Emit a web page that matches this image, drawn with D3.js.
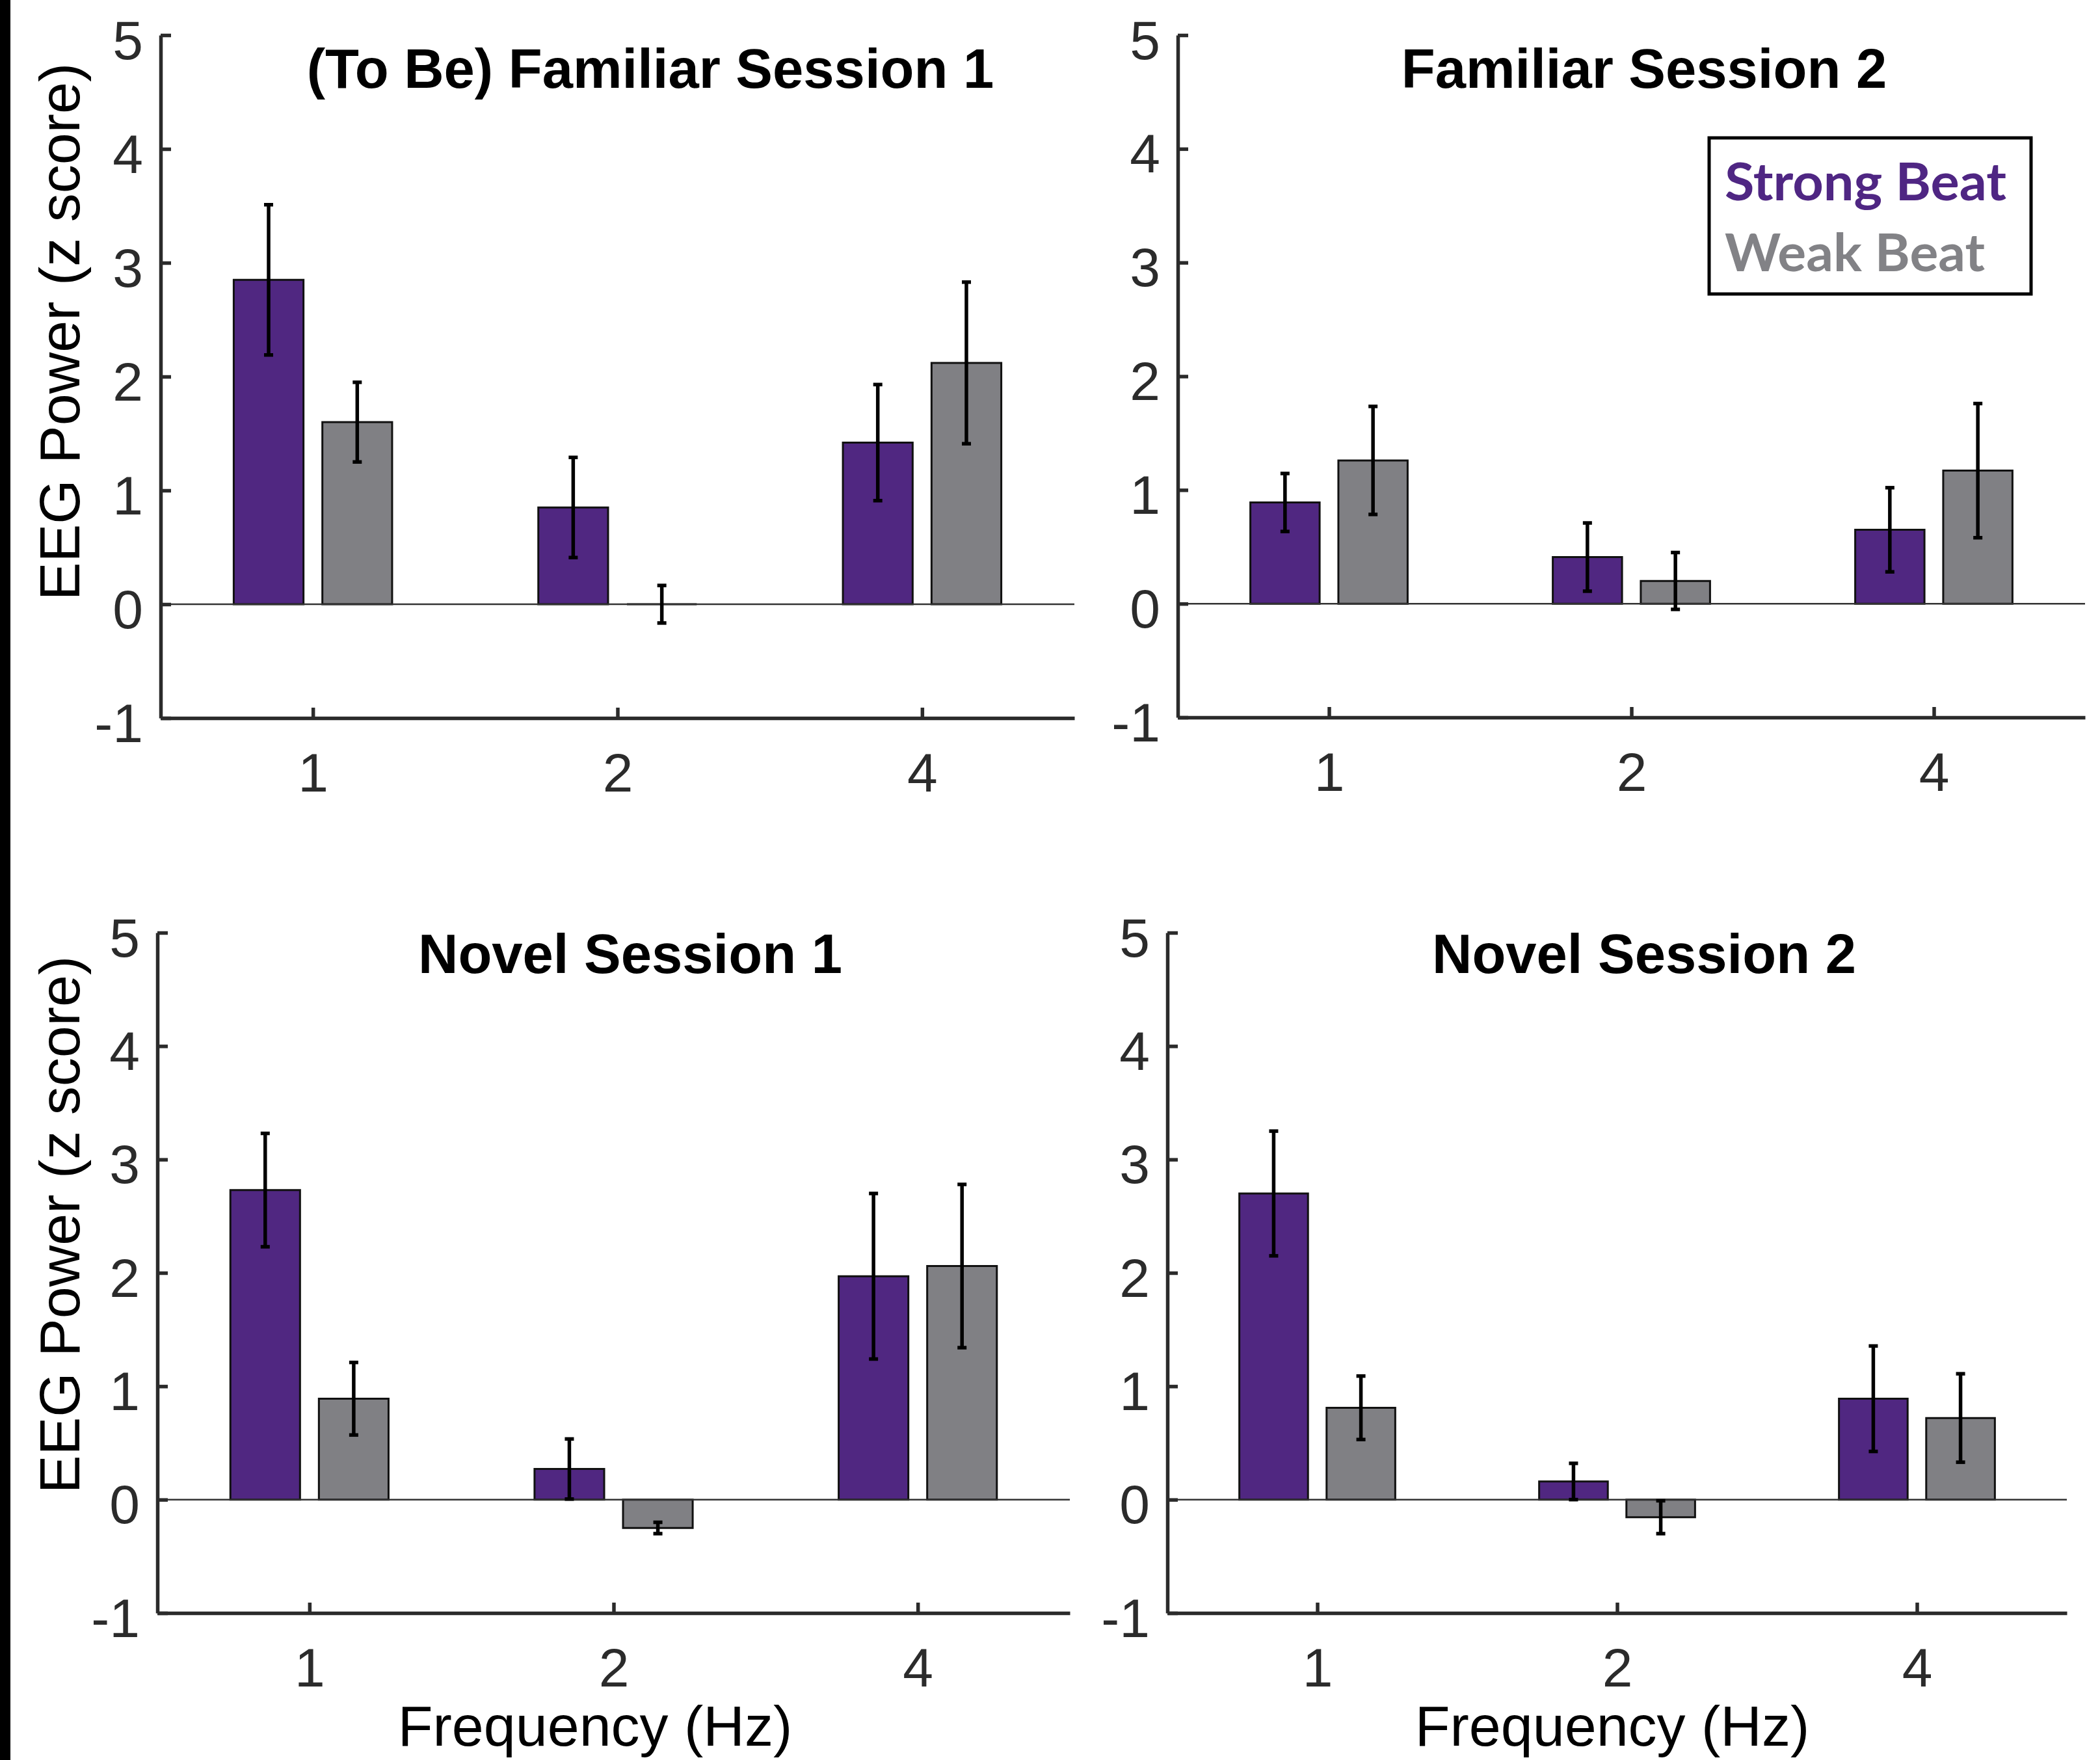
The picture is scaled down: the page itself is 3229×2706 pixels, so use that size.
<!DOCTYPE html>
<html>
<head>
<meta charset="utf-8">
<script src="https://cdn.jsdelivr.net/npm/d3@7/dist/d3.min.js"></script>
<style>
  html, body { margin: 0; padding: 0; background: #ffffff; }
  svg { display: block; }
</style>
</head>
<body>
<script>
// ---------------- DATA ----------------
const categories = ["1", "2", "4"];            // Frequency (Hz)
const yTickValues = [-1, 0, 1, 2, 3, 4, 5];
const seriesNames = ["Strong Beat", "Weak Beat"];
const panelTitles = ["(To Be) Familiar Session 1", "Familiar Session 2", "Novel Session 1", "Novel Session 2"];

const fam1Strong    = [2.85, 0.85, 1.42];
const fam1StrongErr = [0.66, 0.44, 0.51];
const fam1Weak      = [1.60, 0.00, 2.12];
const fam1WeakErr   = [0.35, 0.165, 0.71];

const fam2Strong    = [0.89, 0.41, 0.65];
const fam2StrongErr = [0.255, 0.30, 0.37];
const fam2Weak      = [1.26, 0.20, 1.17];
const fam2WeakErr   = [0.475, 0.25, 0.59];

const nov1Strong    = [2.73, 0.27, 1.97];
const nov1StrongErr = [0.50, 0.265, 0.73];
const nov1Weak      = [0.89, -0.25, 2.06];
const nov1WeakErr   = [0.32, 0.05, 0.72];

const nov2Strong    = [2.70, 0.16, 0.89];
const nov2StrongErr = [0.55, 0.16, 0.465];
const nov2Weak      = [0.81, -0.155, 0.72];
const nov2WeakErr   = [0.28, 0.145, 0.39];

// ---------------- LAYOUT / STYLE ----------------
const W = 3229, H = 2706;
const purple = "#502781", gray = "#808084";
const legendPurple = "#4f2683", legendGray = "#828286";
const axisColor = "#2b2b2b";
const tickFont = "'Liberation Sans', Arial, Helvetica, sans-serif";

const layout = [
  { x0: 247,  x1: 1652, yTop: 54,   yBot: 1104, titleX: 1000, titleY: 135,  ylab: true,  ylabY: 510,  xlab: false, legend: false },
  { x0: 1811, x1: 3206, yTop: 54,   yBot: 1103, titleX: 2528, titleY: 135,  ylab: false, xlab: false, legend: true },
  { x0: 242,  x1: 1645, yTop: 1434, yBot: 2480, titleX: 969,  titleY: 1496, ylab: true,  ylabY: 1883, xlab: true, xlabX: 915, legend: false },
  { x0: 1795, x1: 3178, yTop: 1434, yBot: 2480, titleX: 2528, titleY: 1496, ylab: false, xlab: true, xlabX: 2479, legend: false }
];

const panelData = [
  { strong: fam1Strong, strongErr: fam1StrongErr, weak: fam1Weak, weakErr: fam1WeakErr },
  { strong: fam2Strong, strongErr: fam2StrongErr, weak: fam2Weak, weakErr: fam2WeakErr },
  { strong: nov1Strong, strongErr: nov1StrongErr, weak: nov1Weak, weakErr: nov1WeakErr },
  { strong: nov2Strong, strongErr: nov2StrongErr, weak: nov2Weak, weakErr: nov2WeakErr }
];

const svg = d3.select("body").append("svg")
  .attr("width", W).attr("height", H)
  .attr("viewBox", `0 0 ${W} ${H}`);

svg.append("rect").attr("width", W).attr("height", H).attr("fill", "#ffffff");
// dark strip at the left edge of the figure
svg.append("rect").attr("x", 0).attr("y", 0).attr("width", 16).attr("height", H).attr("fill", "#000");

const barOffset = 0.1455;   // fraction of category step
const barWidth = 0.229;     // fraction of category step
const capHalf = 7;

layout.forEach((L, i) => {
  const d = panelData[i];
  const g = svg.append("g");

  const x = d3.scalePoint().domain(categories).range([L.x0, L.x1]).padding(0.5);
  const y = d3.scaleLinear().domain([-1, 5]).range([L.yBot, L.yTop]);
  const step = x.step();
  const bw = barWidth * step;

  const rows = [];
  categories.forEach((c, k) => {
    rows.push({ c, v: d.strong[k], e: d.strongErr[k], off: -barOffset, fill: purple });
    rows.push({ c, v: d.weak[k], e: d.weakErr[k], off: barOffset, fill: gray });
  });

  // bars (paths so zero-height bars still show their outline)
  g.selectAll("path.bar").data(rows).join("path")
    .attr("class", "bar")
    .attr("d", r => {
      const cx = x(r.c) + r.off * step;
      const xa = cx - bw / 2, xb = cx + bw / 2;
      const y0 = y(0), y1 = y(r.v);
      return `M${xa},${y0}H${xb}V${y1}H${xa}Z`;
    })
    .attr("fill", r => r.fill)
    .attr("stroke", "#111")
    .attr("stroke-width", 3);

  // zero baseline
  g.append("line")
    .attr("x1", L.x0).attr("x2", L.x1)
    .attr("y1", y(0)).attr("y2", y(0))
    .attr("stroke", "#333").attr("stroke-width", 2.5);

  // error bars
  const eb = g.selectAll("g.eb").data(rows).join("g").attr("class", "eb")
    .attr("stroke", "#000").attr("stroke-width", 5.5);
  eb.append("line")
    .attr("x1", r => x(r.c) + r.off * step).attr("x2", r => x(r.c) + r.off * step)
    .attr("y1", r => y(r.v - r.e)).attr("y2", r => y(r.v + r.e));
  eb.append("line")
    .attr("x1", r => x(r.c) + r.off * step - capHalf).attr("x2", r => x(r.c) + r.off * step + capHalf)
    .attr("y1", r => y(r.v + r.e)).attr("y2", r => y(r.v + r.e));
  eb.append("line")
    .attr("x1", r => x(r.c) + r.off * step - capHalf).attr("x2", r => x(r.c) + r.off * step + capHalf)
    .attr("y1", r => y(r.v - r.e)).attr("y2", r => y(r.v - r.e));

  // y axis
  const yAxis = g.append("g").attr("transform", `translate(${L.x0},0)`)
    .call(d3.axisLeft(y).tickValues(yTickValues).tickFormat(v => String(v))
      .tickSizeInner(-16).tickSizeOuter(0).tickPadding(27));
  yAxis.select(".domain").attr("stroke", axisColor).attr("stroke-width", 5.5);
  yAxis.selectAll(".tick line").attr("stroke", axisColor).attr("stroke-width", 5.5);
  yAxis.selectAll(".tick text")
    .attr("dy", 36)
    .attr("fill", axisColor)
    .style("font-family", tickFont).style("font-size", "84px");

  // x axis
  const xAxis = g.append("g").attr("transform", `translate(0,${L.yBot})`)
    .call(d3.axisBottom(x).tickSizeInner(-16).tickSizeOuter(0).tickPadding(0));
  xAxis.select(".domain").attr("stroke", axisColor).attr("stroke-width", 5.5);
  xAxis.selectAll(".tick line").attr("stroke", axisColor).attr("stroke-width", 5.5);
  xAxis.selectAll(".tick text")
    .attr("y", 113).attr("dy", 0)
    .attr("fill", axisColor)
    .style("font-family", tickFont).style("font-size", "84px");

  // title
  g.append("text")
    .attr("x", L.titleX).attr("y", L.titleY)
    .attr("text-anchor", "middle")
    .style("font-family", tickFont).style("font-size", "85px").style("font-weight", "bold")
    .attr("fill", "#000")
    .text(panelTitles[i]);

  if (L.ylab) {
    g.append("text")
      .attr("transform", `translate(122,${L.ylabY}) rotate(-90)`)
      .attr("text-anchor", "middle")
      .style("font-family", tickFont).style("font-size", "88px")
      .attr("fill", "#000")
      .text("EEG Power (z score)");
  }
  if (L.xlab) {
    g.append("text")
      .attr("x", L.xlabX).attr("y", 2684)
      .attr("text-anchor", "middle")
      .style("font-family", tickFont).style("font-size", "88px")
      .attr("fill", "#000")
      .text("Frequency (Hz)");
  }

  if (L.legend) {
    const lg = g.append("g");
    lg.append("rect")
      .attr("x", 2628).attr("y", 212).attr("width", 495).attr("height", 240)
      .attr("fill", "#fff").attr("stroke", "#000").attr("stroke-width", 5);
    const legendColors = [legendPurple, legendGray];
    const legendY = [308, 417];
    const legendLen = [433, 400];
    seriesNames.forEach((n, k) => {
      lg.append("text")
        .attr("x", 2652).attr("y", legendY[k])
        .attr("textLength", legendLen[k]).attr("lengthAdjust", "spacingAndGlyphs")
        .style("font-family", "Lato, 'Open Sans', sans-serif").style("font-size", "81px").style("font-weight", "bold")
        .attr("fill", legendColors[k])
        .text(n);
    });
  }
});
</script>
</body>
</html>
